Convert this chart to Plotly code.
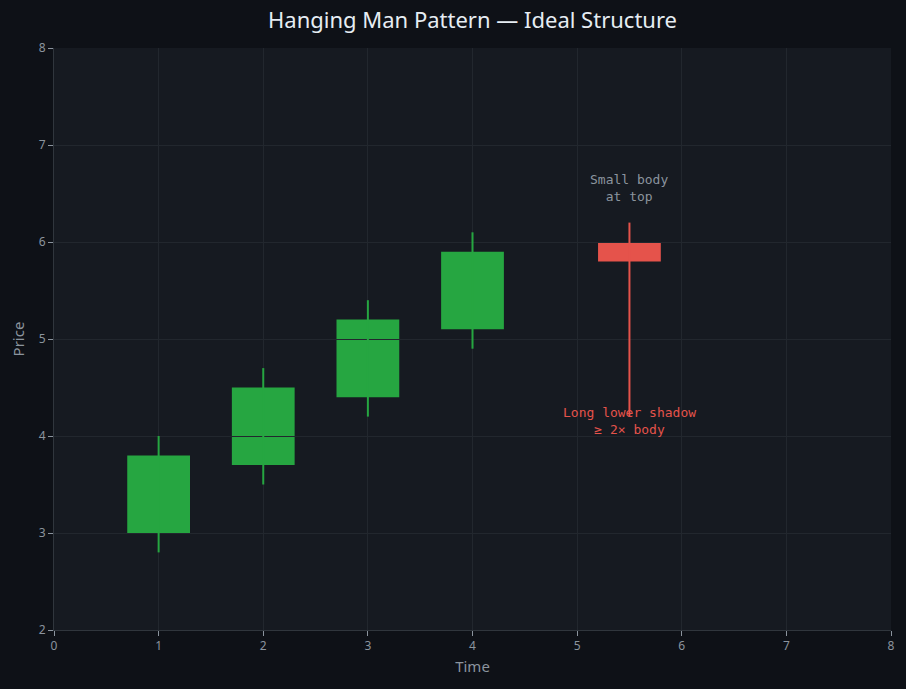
import plotly.graph_objects as go

# Data
times = [1, 2, 3, 4, 5.5]
opens = [3.0, 3.7, 4.4, 5.1, 6.0]
closes = [3.8, 4.5, 5.2, 5.9, 5.8]
highs = [4.0, 4.7, 5.4, 6.1, 6.2]
lows = [2.8, 3.5, 4.2, 4.9, 4.2]
body_width = 0.6

GREEN = "#26a641"
RED = "#e5534b"
GRAY = "#8b949e"

fig = go.Figure()

# bodies as shapes under gridlines
for t, o, c in zip(times, opens, closes):
    col = GREEN if c >= o else RED
    fig.add_shape(type="rect", xref="x", yref="y",
                  x0=t - body_width / 2, x1=t + body_width / 2,
                  y0=min(o, c), y1=max(o, c),
                  fillcolor=col, line=dict(width=0), layer="below")

# wicks
for t, o, c, h, l in zip(times, opens, closes, highs, lows):
    col = GREEN if c >= o else RED
    fig.add_trace(go.Scatter(x=[t, t], y=[l, h], mode="lines",
                             line=dict(color=col, width=2),
                             showlegend=False, hoverinfo="skip"))

fig.add_annotation(x=5.5, y=6.56, text="Small body<br>at top", showarrow=False,
                   font=dict(family="DejaVu Sans Mono", size=13, color=GRAY))
fig.add_annotation(x=5.5, y=4.15, text="Long lower shadow<br>≥ 2× body", showarrow=False,
                   font=dict(family="DejaVu Sans Mono", size=13, color=RED))

axis_common = dict(
    showgrid=True, gridcolor="#22272e", gridwidth=1,
    zeroline=False, showline=True, linecolor="#30363d", linewidth=1,
    ticks="outside", ticklen=5, tickcolor=GRAY, tickwidth=1,
    tickfont=dict(family="Noto Sans", size=12, color=GRAY),
    dtick=1,
)

fig.update_layout(
    width=906, height=689,
    paper_bgcolor="#0e1117", plot_bgcolor="#161a21",
    margin=dict(l=54, r=15, t=48, b=59),
    title=dict(text="Hanging Man Pattern — Ideal Structure", xref="paper", x=0.5, xanchor="center",
               y=0.97, yanchor="middle",
               font=dict(family="Noto Sans", size=22, color="#e6edf3")),
    xaxis=dict(range=[0, 8], title=dict(text="Time", font=dict(family="Noto Sans", size=15, color=GRAY), standoff=8), **axis_common),
    yaxis=dict(range=[2, 8], title=dict(text="Price", font=dict(family="Noto Sans", size=15, color=GRAY), standoff=10), **axis_common),
    showlegend=False,
)

fig.write_html("out.html")
